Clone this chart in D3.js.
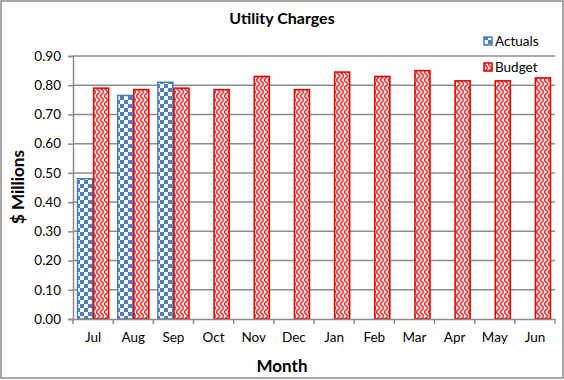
<!DOCTYPE html>
<html><head><meta charset="utf-8">
<script src="https://cdn.jsdelivr.net/npm/d3@7"></script>
<style>body{margin:0;background:#fff}svg{display:block}</style>
</head><body>
<script>
const months = ["Jul","Aug","Sep","Oct","Nov","Dec","Jan","Feb","Mar","Apr","May","Jun"];
const actuals = [0.48,0.765,0.81,null,null,null,null,null,null,null,null,null];
const budget = [0.79,0.785,0.79,0.785,0.83,0.785,0.845,0.83,0.85,0.815,0.815,0.825];
const yTicks = [0,0.1,0.2,0.3,0.4,0.5,0.6,0.7,0.8,0.9];
const seriesNames = ["Actuals","Budget"];

const W=564,H=380;
const svg=d3.select("body").append("svg").attr("width",W).attr("height",H);
const defs=svg.append("defs");
// checker pattern
const pc=defs.append("pattern").attr("id","chk").attr("patternUnits","userSpaceOnUse").attr("width",8).attr("height",8);
pc.append("rect").attr("width",8).attr("height",8).attr("fill","#fff");
pc.append("rect").attr("width",4).attr("height",4).attr("fill","#4f81bd");
pc.append("rect").attr("x",4).attr("y",4).attr("width",4).attr("height",4).attr("fill","#4f81bd");
// weave / zigzag pattern
const pw=defs.append("pattern").attr("id","wv").attr("patternUnits","userSpaceOnUse").attr("width",8).attr("height",8);
pw.append("rect").attr("width",8).attr("height",8).attr("fill","#fbe4e4");
pw.append("path").attr("d","M0,0 L4,4 L0,8 M4,0 L8,4 L4,8").attr("stroke","#e02828").attr("stroke-width",1.3).attr("fill","none");
pw.append("path").attr("d","M6,1 L7,2 M1,5 L2,6").attr("stroke","#e86060").attr("stroke-width",1).attr("fill","none");

const font="Lato, 'Open Sans', sans-serif";
svg.append("rect").attr("x",1).attr("y",1).attr("width",W-2).attr("height",H-3).attr("fill","#fff").attr("stroke","#8a8a8a").attr("stroke-width",1.5);

const m={l:73,r:9,t:56,b:61};
const x=d3.scaleBand().domain(months).range([m.l,W-m.r]).paddingInner(0.2).paddingOuter(0.1);
const x0=d3.scaleBand().domain(months).range([m.l,W-m.r]).padding(0);
const xs=d3.scaleBand().domain(seriesNames).range([0,x.bandwidth()]);
const y=d3.scaleLinear().domain([0,0.9]).range([H-m.b,m.t]);

// gridlines
svg.append("g").selectAll("line").data(yTicks.slice(1)).join("line")
 .attr("x1",m.l).attr("x2",W-m.r).attr("y1",d=>y(d)).attr("y2",d=>y(d))
 .attr("stroke","#8c8c8c").attr("stroke-width",1.5);

// y axis
const ya=svg.append("g").attr("transform",`translate(${m.l},0)`)
 .call(d3.axisLeft(y).tickValues(yTicks).tickFormat(d3.format(".2f")).tickSize(5).tickPadding(7));
ya.select(".domain").attr("stroke","#8c8c8c").attr("stroke-width",1.5);
ya.selectAll(".tick line").attr("stroke","#8c8c8c").attr("stroke-width",1.5);
ya.selectAll("text").attr("font-family",font).attr("font-size",13.5).attr("fill","#000");

// bars
const g=svg.append("g");
months.forEach((mo,i)=>{
  if(actuals[i]!=null){
    g.append("rect").attr("x",x(mo)+xs("Actuals")+0.5).attr("y",y(actuals[i]))
     .attr("width",xs.bandwidth()-1).attr("height",y(0)-y(actuals[i]))
     .attr("fill","url(#chk)").attr("stroke","#4a7ebb").attr("stroke-width",1.5);
  }
  g.append("rect").attr("x",x(mo)+xs("Budget")+0.5).attr("y",y(budget[i]))
   .attr("width",xs.bandwidth()-1).attr("height",y(0)-y(budget[i]))
   .attr("fill","url(#wv)").attr("stroke","#e00000").attr("stroke-width",1.5);
});

// x axis
const xa=svg.append("g").attr("transform",`translate(0,${y(0)})`)
 .call(d3.axisBottom(x).tickSize(0).tickPadding(13));
xa.select(".domain").attr("stroke","#8c8c8c").attr("stroke-width",1.5);
xa.selectAll("text").attr("font-family",font).attr("font-size",13.5).attr("fill","#000");
svg.append("g").selectAll("line").data(months.concat(["end"])).join("line")
 .attr("x1",(d,i)=>m.l+i*x0.step()).attr("x2",(d,i)=>m.l+i*x0.step())
 .attr("y1",y(0)).attr("y2",y(0)+5).attr("stroke","#8c8c8c").attr("stroke-width",1.5);

// titles
svg.append("text").attr("x",282).attr("y",24).attr("text-anchor","middle")
 .attr("font-family",font).attr("font-weight","bold").attr("font-size",16).text("Utility Charges");
svg.append("text").attr("x",282).attr("y",372).attr("text-anchor","middle")
 .attr("font-family",font).attr("font-weight","bold").attr("font-size",17).text("Month");
svg.append("text").attr("transform","translate(24,187) rotate(-90)").attr("text-anchor","middle")
 .attr("font-family",font).attr("font-weight","bold").attr("font-size",17).text("$ Millions");

// legend
const lg=svg.append("g");
const lItems=[{n:"Actuals",f:"url(#chk)",s:"#4a7ebb",y:42},{n:"Budget",f:"url(#wv)",s:"#e00000",y:68}];
lItems.forEach(it=>{
  lg.append("rect").attr("x",484).attr("y",it.y-5).attr("width",8).attr("height",8).attr("fill",it.f).attr("stroke",it.s).attr("stroke-width",1.5);
  lg.append("text").attr("x",495).attr("y",it.y+4).attr("font-family",font).attr("font-size",13.5).text(it.n);
});
</script>
</body></html>
